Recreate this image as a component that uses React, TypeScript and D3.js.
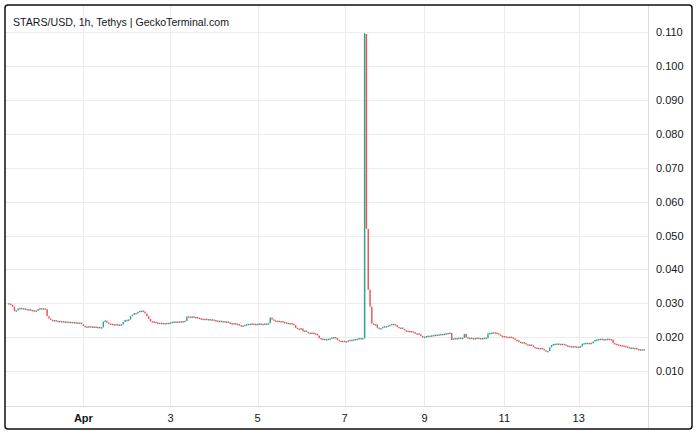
import React from "react";
import * as d3 from "d3";

const title = "STARS/USD, 1h, Tethys | GeckoTerminal.com";
const dayLabels = ["Apr", "3", "5", "7", "9", "11", "13"];
const priceTicks = [0.01, 0.02, 0.03, 0.04, 0.05, 0.06, 0.07, 0.08, 0.09, 0.1, 0.11];
const firstOpen = 0.03;

// hourly closes, grouped in two-day blocks (the first block is a partial one)
const seg0 = [
  0.0298, 0.0296, 0.029, 0.0277, 0.0279, 0.0285, 0.0286, 0.0284, 0.0285, 0.0283,
  0.0281, 0.0282, 0.028, 0.0279, 0.0276, 0.0278, 0.0283, 0.0285, 0.0284, 0.0285,
  0.0283, 0.0262, 0.0255, 0.0251, 0.0249, 0.025, 0.0247, 0.0248, 0.0246, 0.0247,
  0.0245, 0.0246, 0.0245, 0.0244, 0.0245, 0.0243, 0.0244, 0.0243, 0.0242, 0.0243,
  0.0238,
];
const seg1 = [
  0.0233, 0.0231, 0.0229, 0.0232, 0.0231, 0.023, 0.0231, 0.0229, 0.023, 0.0228,
  0.0229, 0.0246, 0.0249, 0.0243, 0.024, 0.0239, 0.0238, 0.0237, 0.0238, 0.0237,
  0.0236, 0.0238, 0.0245, 0.0251, 0.0249, 0.0252, 0.0262, 0.0266, 0.0271, 0.027,
  0.0275, 0.0277, 0.0278, 0.0276, 0.027, 0.0262, 0.0254, 0.0247, 0.0246, 0.0245,
  0.0243, 0.0242, 0.0241, 0.0242, 0.024, 0.0241, 0.0242, 0.0241,
];
const seg2 = [
  0.0243, 0.0245, 0.0246, 0.0244, 0.0246, 0.0245, 0.0247, 0.0246, 0.0248, 0.0261,
  0.026, 0.0259, 0.0261, 0.0258, 0.0259, 0.0257, 0.0255, 0.0254, 0.0253, 0.0254,
  0.0252, 0.0253, 0.0251, 0.0252, 0.025, 0.0249, 0.0247, 0.0248, 0.0246, 0.0247,
  0.0245, 0.0246, 0.0243, 0.0241, 0.024, 0.0241, 0.0239, 0.0238, 0.0235, 0.0233,
  0.0234, 0.0236, 0.0238, 0.0239, 0.0238, 0.024, 0.0239, 0.0238,
];
const seg3 = [
  0.0239, 0.024, 0.0238, 0.0239, 0.024, 0.0239, 0.0241, 0.0258, 0.0252, 0.0249,
  0.0247, 0.0248, 0.0246, 0.0247, 0.0245, 0.0243, 0.0242, 0.024, 0.0241, 0.0239,
  0.0236, 0.0228, 0.0225, 0.0224, 0.0226, 0.0217, 0.0219, 0.0215, 0.0213, 0.0212,
  0.0213, 0.0211, 0.021, 0.0205, 0.0197, 0.0194, 0.0195, 0.0193, 0.0194, 0.0195,
  0.0196, 0.0199, 0.02, 0.0198, 0.0192, 0.0189, 0.0188, 0.0189,
];
const seg4 = [
  0.0188, 0.0187, 0.019, 0.0192, 0.0191, 0.0193, 0.0194, 0.0195, 0.0197, 0.0196,
  0.0197, 0.1095, 0.052, 0.034, 0.029, 0.024, 0.0237, 0.0238, 0.0228, 0.0224,
  0.0226, 0.023, 0.0232, 0.0231, 0.0234, 0.0236, 0.0239, 0.0238, 0.0236, 0.023,
  0.0227, 0.0228, 0.0224, 0.022, 0.0219, 0.0217, 0.0218, 0.0216, 0.0214, 0.021,
  0.0211, 0.0209, 0.0203, 0.0199,
];
const seg5 = [
  0.0201, 0.0203, 0.0204, 0.0203, 0.0205, 0.0206, 0.0207, 0.0206, 0.0208, 0.0209,
  0.0208, 0.021, 0.0211, 0.0212, 0.0213, 0.0192, 0.0196, 0.0197, 0.0196, 0.0198,
  0.0197, 0.0198, 0.021, 0.0199, 0.0197, 0.0198, 0.0197, 0.0196, 0.0197, 0.0198,
  0.0197, 0.0196, 0.0197, 0.0198, 0.0197, 0.0211, 0.0212, 0.0213, 0.0214, 0.0213,
  0.0211, 0.0207, 0.0204, 0.0203,
];
const seg6 = [
  0.0202, 0.0201, 0.02, 0.0201, 0.0199, 0.0196, 0.0192, 0.0191, 0.0186, 0.0184,
  0.0185, 0.0182, 0.0178, 0.0177, 0.0178, 0.0176, 0.0171, 0.0169, 0.0168, 0.0167,
  0.0168, 0.0165, 0.0161, 0.0158, 0.0159, 0.017, 0.0177, 0.0179, 0.018, 0.0181,
  0.018, 0.0179, 0.018, 0.0178, 0.0175, 0.0174, 0.0173, 0.0172, 0.0173, 0.0172,
  0.0171,
];
const seg7 = [
  0.0172, 0.0173, 0.0181, 0.0182, 0.0183, 0.0182, 0.0183, 0.0182, 0.0187, 0.0192,
  0.0193, 0.0194, 0.0195, 0.0194, 0.0193, 0.0194, 0.0195, 0.0194, 0.0193, 0.0182,
  0.018, 0.0178, 0.0177, 0.0176, 0.0175, 0.0174, 0.0172, 0.017, 0.0168, 0.0169,
  0.0167, 0.0168, 0.0165, 0.0163, 0.0164, 0.0163, 0.0164,
];
const segments = [seg0, seg1, seg2, seg3, seg4, seg5, seg6, seg7];
// wick extremes that differ from the bodies: [bar index, high]
const wickHighs: [number, number][] = [[196, 0.1098], [197, 0.109]];

const W = 700;
const H = 435;
const UP = "#26a69a";
const DOWN = "#ef5350";
const GRID = "#ececef";
const SEP = "#dcdcdf";
const FONT = "'Liberation Sans', Arial, Helvetica, sans-serif";

export default function App() {
  const closes = segments.flat();
  const n = closes.length;
  const candles = closes.map((c, i) => {
    const o = i === 0 ? firstOpen : closes[i - 1];
    let hi = Math.max(o, c);
    const lo = Math.min(o, c);
    const wh = wickHighs.find((w) => w[0] === i);
    if (wh) hi = Math.max(hi, wh[1]);
    return { i, o, c, hi, lo };
  });

  const starts: number[] = [];
  let acc = 0;
  segments.forEach((s) => {
    starts.push(acc);
    acc += s.length;
  });
  const tickIdx = starts.slice(1);

  const left = 5, top = 5, right = 692, bottom = 429;
  const plotRight = 648, plotBottom = 406;

  const x = d3.scaleLinear().domain([0, n - 1]).range([9, 644]);
  const y = d3.scaleLinear().domain([0, 0.11]).range([405, 32.3]);
  const step = x(1) - x(0);
  const bw = Math.max(1, step * 0.8);

  return (
    <svg
      width={W}
      height={H}
      style={{ position: "absolute", left: 0, top: 0, display: "block", background: "#fff" }}
    >
      <rect x={0} y={0} width={W} height={H} fill="#fff" />
      {/* grid */}
      {priceTicks.map((t) => (
        <line key={"h" + t} x1={left} x2={plotRight} y1={Math.round(y(t)) + 0.5} y2={Math.round(y(t)) + 0.5} stroke={GRID} />
      ))}
      {tickIdx.map((ti) => (
        <line key={"v" + ti} x1={Math.round(x(ti)) + 0.5} x2={Math.round(x(ti)) + 0.5} y1={top} y2={plotBottom} stroke={GRID} />
      ))}
      {/* candles */}
      <g>
        {candles.map((d) => {
          const col = d.c >= d.o ? UP : DOWN;
          const cx = x(d.i);
          const yTop = y(Math.max(d.o, d.c));
          const yBot = y(Math.min(d.o, d.c));
          const h = Math.max(1.5, yBot - yTop);
          return (
            <g key={d.i}>
              {(d.hi > Math.max(d.o, d.c) || d.lo < Math.min(d.o, d.c)) && (
                <line x1={cx} x2={cx} y1={y(d.hi)} y2={y(d.lo)} stroke={col} strokeWidth={1} />
              )}
              <rect x={cx - bw / 2} y={yTop - (h > yBot - yTop ? 0.25 : 0)} width={bw} height={h} fill={col} />
            </g>
          );
        })}
      </g>
      {/* separators */}
      <line x1={plotRight + 0.5} x2={plotRight + 0.5} y1={top} y2={bottom} stroke={SEP} />
      <line x1={left} x2={right} y1={plotBottom + 0.5} y2={plotBottom + 0.5} stroke={SEP} />
      {/* y labels */}
      {priceTicks.map((t) => (
        <text key={"yl" + t} x={656} y={y(t)} dy="0.36em" fontFamily={FONT} fontSize={11} fill="#131722">
          {t.toFixed(3)}
        </text>
      ))}
      {/* x labels */}
      {tickIdx.map((ti, k) => (
        <text
          key={"xl" + ti}
          x={x(ti)}
          y={418}
          dy="0.36em"
          textAnchor="middle"
          fontFamily={FONT}
          fontSize={11}
          fontWeight={k === 0 ? "bold" : "normal"}
          fill="#131722"
        >
          {dayLabels[k]}
        </text>
      ))}
      {/* title */}
      <text x={13} y={22} dy="0.36em" fontFamily={FONT} fontSize={10.6} fill="#131722">
        {title}
      </text>
      {/* frame */}
      <rect x={left} y={top} width={right - left} height={bottom - top} rx={3} fill="none" stroke="#111" strokeWidth={1.5} />
    </svg>
  );
}
